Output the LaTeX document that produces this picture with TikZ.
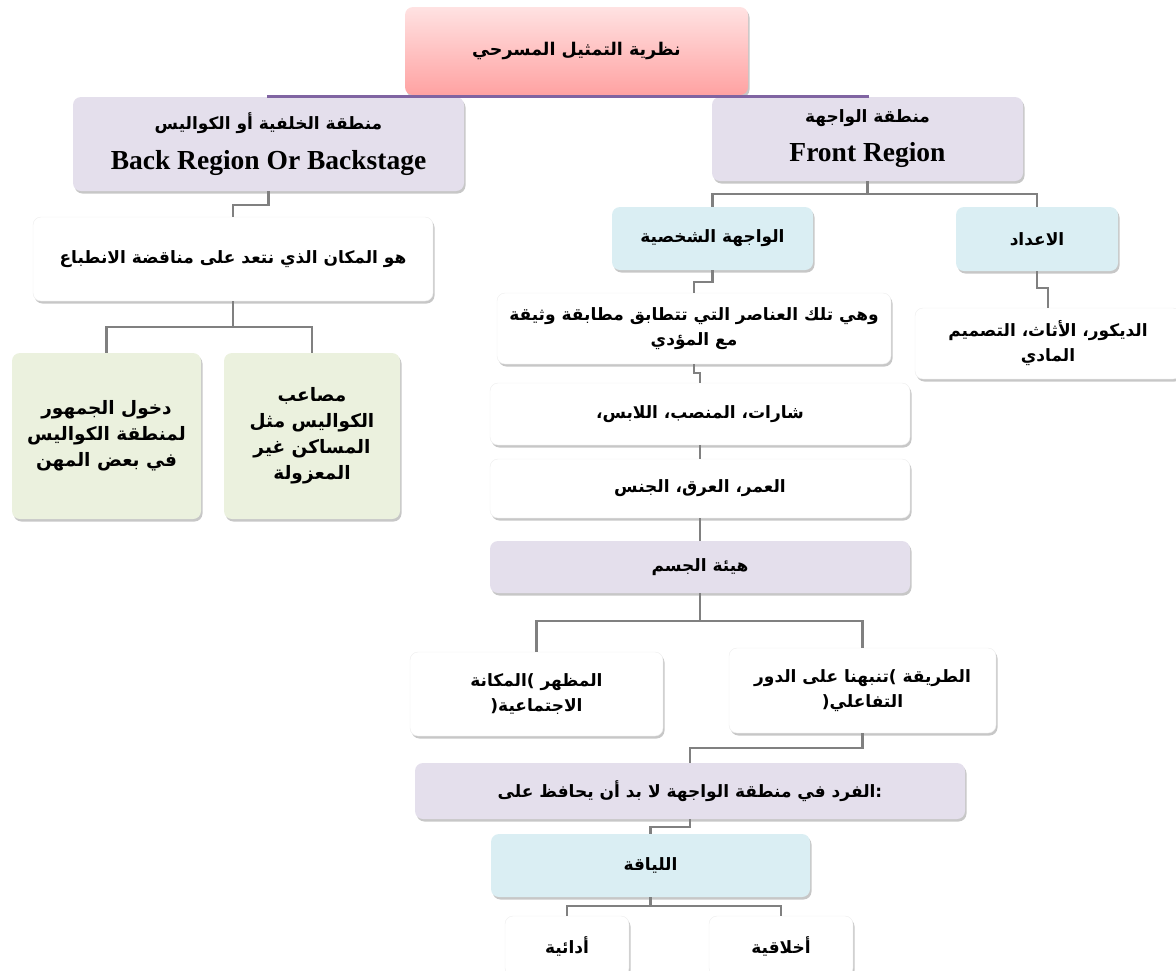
\documentclass[tikz,border=0pt]{standalone}
\usepackage{fontspec}
\TeXXeTstate=1
\newfontfamily\arabicfont[Script=Arabic]{DejaVu Sans}
\newfontfamily\latinserif{Liberation Serif}
\usetikzlibrary{shadows}
\definecolor{pinktop}{RGB}{255,226,226}
\definecolor{pinkbot}{RGB}{255,162,162}
\definecolor{lav}{RGB}{228,223,236}
\definecolor{lblue}{RGB}{218,238,243}
\definecolor{lgreen}{RGB}{235,241,222}
\definecolor{purp}{RGB}{128,100,162}
\definecolor{conngray}{RGB}{128,128,128}
\newcommand{\artxt}[1]{{\arabicfont\bfseries\beginR #1\endR}}
\newcommand{\entxt}[1]{{\latinserif\bfseries #1}}
\begin{document}
\begin{tikzpicture}[x=1pt,y=-1pt,
  box/.style={rounded corners=8pt, align=center, inner sep=2pt,
    drop shadow={shadow xshift=1.5pt, shadow yshift=-2.5pt, fill=black, opacity=0.22},
    font=\fontsize{17}{25}\selectfont},
  wbox/.style={box, fill=white, draw=black!7},
  lavbox/.style={box, fill=lav},
  bluebox/.style={box, fill=lblue},
  greenbox/.style={box, fill=lgreen, font=\fontsize{18.5}{26}\selectfont},
  titlebox/.style={box, top color=pinktop, bottom color=pinkbot, font=\fontsize{17.5}{25}\selectfont},
  conn/.style={draw=conngray, line width=2.2pt},
  pconn/.style={draw=purp, line width=3pt}]
\useasboundingbox (0,0) rectangle (1176,970);

\node[titlebox, minimum width=343pt, minimum height=88pt] (title) at (576.5,51) {\artxt{نظرية التمثيل المسرحي}};

\node[lavbox, minimum width=391pt, minimum height=94pt] (back) at (268.5,144)
  {\artxt{منطقة الخلفية أو الكواليس}\\[15pt]{\fontsize{27.5}{30}\selectfont\entxt{Back Region Or Backstage}}};
\node[lavbox, minimum width=311pt, minimum height=84pt] (front) at (867.5,139)
  {\artxt{منطقة الواجهة}\\[14pt]{\fontsize{27.5}{30}\selectfont\entxt{Front Region}}};

\node[wbox, minimum width=400pt, minimum height=84pt] (hm) at (233,259)
  {\artxt{هو المكان الذي نتعد على مناقضة الانطباع}};
\node[greenbox, minimum width=189pt, minimum height=166pt] (gL) at (106.5,436)
  {\artxt{دخول الجمهور}\\\artxt{لمنطقة الكواليس}\\\artxt{في بعض المهن}};
\node[greenbox, minimum width=176pt, minimum height=166pt] (gR) at (312,436)
  {\artxt{مصاعب}\\\artxt{الكواليس مثل}\\\artxt{المساكن غير}\\\artxt{المعزولة}};

\node[bluebox, minimum width=201pt, minimum height=63pt] (wsh) at (712.5,238.5)
  {\artxt{الواجهة الشخصية}};
\node[bluebox, minimum width=162pt, minimum height=64pt] (idad) at (1037,239)
  {\artxt{الاعداد}};
\node[wbox, minimum width=266pt, minimum height=71pt] (decor) at (1048,343.5)
  {\artxt{الديكور، الأثاث، التصميم}\\\artxt{المادي}};
\node[wbox, minimum width=394pt, minimum height=71pt] (whi) at (694,328.5)
  {\artxt{وهي تلك العناصر التي تتطابق مطابقة وثيقة}\\\artxt{مع المؤدي}};
\node[wbox, minimum width=420pt, minimum height=62pt] (shar) at (700,414)
  {\artxt{شارات، المنصب، اللابس،}};
\node[wbox, minimum width=420pt, minimum height=59pt] (umr) at (700,488.5)
  {\artxt{العمر، العرق، الجنس}};
\node[lavbox, minimum width=420pt, minimum height=52pt] (hay) at (700,567)
  {\artxt{هيئة الجسم}};
\node[wbox, minimum width=253pt, minimum height=84pt] (maz) at (536.5,694)
  {\artxt{المظهر )المكانة}\\\artxt{الاجتماعية(}};
\node[wbox, minimum width=267pt, minimum height=85pt] (tar) at (862.5,690.5)
  {\artxt{الطريقة )تنبهنا على الدور}\\\artxt{التفاعلي(}};
\node[lavbox, minimum width=550pt, minimum height=56pt] (fard) at (690,791)
  {\artxt{:الفرد في منطقة الواجهة لا بد أن يحافظ على}};
\node[bluebox, minimum width=319pt, minimum height=63pt] (liy) at (650.5,865.5)
  {\artxt{اللياقة}};
\node[wbox, minimum width=124pt, minimum height=60pt] (ada) at (567,946)
  {\artxt{أدائية}};
\node[wbox, minimum width=144pt, minimum height=60pt] (akh) at (781,946)
  {\artxt{أخلاقية}};

% connectors
\draw[pconn] (title.south) -- ++(0,1.5) coordinate (mt);
\draw[pconn] (back.north) |- (mt) -| (front.north);
\draw[conn] (back.south) -- ++(0,14) -| (hm.north);
\draw[conn] (hm.south) -- ++(0,26) coordinate (m1);
\draw[conn] (gL.north) |- (m1) -| (gR.north);
\draw[conn] (front.south) -- ++(0,13) coordinate (m2);
\draw[conn] (wsh.north) |- (m2) -| (idad.north);
\draw[conn] (wsh.south) -- ++(0,12) -| (whi.north);
\draw[conn] (idad.south) -- ++(0,17) -| (decor.north);
\draw[conn] (whi.south) -- ++(0,9) -| (shar.north);
\draw[conn] (shar.south) -- ++(0,7) -| (umr.north);
\draw[conn] (umr.south) -- ++(0,11) -| (hay.north);
\draw[conn] (hay.south) -- ++(0,28) coordinate (m3);
\draw[conn] (maz.north) |- (m3) -| (tar.north);
\draw[conn] (tar.south) -- ++(0,15) -| (fard.north);
\draw[conn] (fard.south) -- ++(0,8) -| (liy.north);
\draw[conn] (liy.south) -- ++(0,9) coordinate (m4);
\draw[conn] (ada.north) |- (m4) -| (akh.north);
\end{tikzpicture}
\end{document}
